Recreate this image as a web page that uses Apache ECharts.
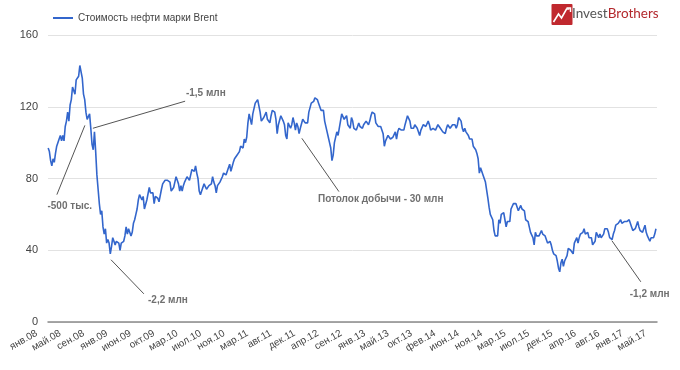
<!DOCTYPE html>
<html>
<head>
<meta charset="utf-8">
<script src="https://cdn.jsdelivr.net/npm/echarts@6/dist/echarts.min.js"></script>
<style>
html,body{margin:0;padding:0;background:#fff;}
#chart{width:680px;height:370px;}
</style>
</head>
<body>
<div id="chart"></div>
<script>
// Weekly Brent prices (USD/bbl), weeks stepping 7 days from 2008-01-02
const y2008 = [97,95,90,87,91, 89,94,98,99, 102,104,101,104, 101,109,112,117,112, 121,124,131,132, 127,135,134,137, 143,143,136,127,124, 117,113,114,116, 108,99,96,106, 95,82,74,66,60, 62,53,49,52, 44,46,44,38];
const y2009 = [42, 47,45,43,45, 44,44,40,44, 44,45,48,53, 49,52,52,48,50, 55,57,60,63, 68,71,70,68, 70,63,63,68,69, 75,72,71,72, 66,70,70,69,67, 67,74,77,77, 79,78,79,78, 78,73,72,75];
const y2010 = [78, 81,79,77,73, 76,73,76,78, 79,81,80,79,82, 85,84,84,87, 83,80,73,71, 73,74,77,76,74, 74,76,75,77, 81,78,76,72, 76,77,78,78,81, 83,83,82,83, 86,88,84,85, 89,91,92,93];
const y2011 = [94, 95,98,98,97, 102,100,103,111, 116,115,110,116,116, 122,121,124,125, 117,112,112,114, 115,117,113,114,111, 115,118,118,117, 113,105,110,110,115, 115,112,110,104, 102,111,111,108, 110,114,111,107,111, 109,105,108];
const y2012 = [107, 113,113,111,110, 111,117,118,122,122, 123,125,124,124, 122,120,118,119, 118,112,112,106,103, 100,97,90,93, 100,100,106,104, 105,112,116,115,113, 114,115,110,111, 108,114,112,108,109, 107,109,111,109, 109,108,110];
const y2013 = [111, 112,112,110,112,115, 117,118,116,111, 111,109,108,109, 108,105,98,101, 100,104,103,102,102, 103,103,106,102, 106,108,108,107,107, 107,110,110,115, 115,112,108,108, 108,110,109,108,109, 104,107,108,110, 111,109,109];
const y2014 = [112, 110,107,106,108,107, 107,108,110,109, 108,108,106,107, 105,108,110,110,108, 108,110,110,110, 108,110,114,114, 112,108,106,108,106, 105,104,102,102, 102,98,98,96, 94,91,83,86,86, 82,80,78,77, 69,64,60];
const y2015 = [60,57, 51,48,49,48, 57,55,60,61, 61,57,53,56, 55,56,63,62,66, 67,66,65,62, 63,65,63,63, 62,57,58,56,53, 50,49,47,43, 50,48,49,48,48, 51,49,48,48, 48,44,44,45, 43,40,38];
const y2016 = [37,37, 34,30,28,33, 35,31,34,35, 37,41,40,40,39, 38,44,44,47, 44,47,49,50, 50,52,49,50,50, 47,47,47,43, 43,45,50,49,47, 49,47,47,49, 52,52,52,50, 47,46,46,49,51, 54,55];
const y2017 = [55,56, 57,55,55,56, 57,56,56,57, 56,53,51,50,52, 54,56,53,51, 50,50,52,54,50, 48,47,45,47, 48,47,49,52];

const tickLabels = ['янв.08','май.08','сен.08','янв.09','июн.09','окт.09','мар.10','июл.10','ноя.10','мар.11','авг.11','дек.11','апр.12','сен.12','янв.13','май.13','окт.13','фев.14','июн.14','ноя.14','мар.15','июл.15','дек.15','апр.16','авг.16','янв.17','май.17'];
const yTicks = [0, 40, 80, 120, 160];
const seriesName = 'Стоимость нефти марки Brent';

const annotations = [
  {text: '-500 тыс.', from: ['2008-07-31', 109.6], to: ['2008-02-21', 71.0], label: ['2008-05-05', 64.3]},
  {text: '-1,5 млн', from: ['2008-09-15', 108.0], to: ['2010-02-27', 123.1], label: ['2010-06-26', 127.5]},
  {text: '-2,2 млн', from: ['2008-12-28', 34.7], to: ['2009-07-05', 15.7], label: ['2009-11-20', 12.3]},
  {text: 'Потолок добычи - 30 млн', from: ['2011-12-30', 102.4], to: ['2012-07-30', 72.7], label: ['2013-03-27', 68.2]},
  {text: '-1,2 млн', from: ['2016-11-15', 45.3], to: ['2017-04-30', 22.4], label: ['2017-06-20', 15.7]}
];

function ts(s) { const p = s.split('-').map(Number); return new Date(p[0], p[1] - 1, p[2]).getTime(); }

const weekly = [].concat(y2008, y2009, y2010, y2011, y2012, y2013, y2014, y2015, y2016, y2017);
const start = new Date(2008, 0, 2);
const seriesData = weekly.map((v, i) => {
  const d = new Date(start.getFullYear(), start.getMonth(), start.getDate() + 7 * i);
  return [d.getTime(), v];
});

const chart = echarts.init(document.getElementById('chart'), null, {renderer: 'canvas'});
const FONT = 'Arial, "Liberation Sans", sans-serif';

chart.setOption({
  animation: false,
  backgroundColor: '#fff',
  textStyle: {fontFamily: FONT},
  legend: {
    left: 48, top: 8, itemWidth: 20, itemHeight: 2, itemGap: 10,
    icon: 'rect',
    textStyle: {fontSize: 10, color: '#444', fontFamily: FONT},
    data: [{name: seriesName, icon: 'rect'}]
  },
  grid: {left: 48, right: 23, top: 35, bottom: 48, containLabel: false},
  xAxis: [
    {
      type: 'time', min: ts('2008-01-01'), max: ts('2017-08-01'),
      axisLabel: {show: false}, axisTick: {show: false}, splitLine: {show: false},
      axisLine: {show: true, lineStyle: {color: '#8a8a8a', width: 1.5}}
    },
    {
      type: 'category', data: tickLabels, boundaryGap: false, position: 'bottom',
      axisLine: {show: false}, axisTick: {show: false}, splitLine: {show: false},
      axisLabel: {rotate: 30, interval: 0, fontSize: 10, color: '#444', margin: 4, padding: [0, 13, 0, 0], fontFamily: FONT}
    }
  ],
  yAxis: {
    type: 'value', min: yTicks[0], max: yTicks[yTicks.length - 1], interval: 40,
    axisLine: {show: false}, axisTick: {show: false},
    axisLabel: {fontSize: 11, color: '#444', margin: 10, fontFamily: FONT},
    splitLine: {lineStyle: {color: '#e2e2e2', width: 1}}
  },
  series: [{
    name: seriesName, type: 'line', xAxisIndex: 0, data: seriesData,
    symbol: 'none', showSymbol: false,
    lineStyle: {color: '#3366cc', width: 1.6},
    itemStyle: {color: '#3366cc'},
    markLine: {
      silent: true, symbol: ['none', 'none'], animation: false,
      label: {show: false},
      lineStyle: {color: '#555', width: 1, type: 'solid'},
      data: annotations.map(a => [
        {coord: [ts(a.from[0]), a.from[1]]},
        {coord: [ts(a.to[0]), a.to[1]]}
      ])
    },
    markPoint: {
      silent: true, animation: false,
      data: annotations.map(a => ({
        coord: [ts(a.label[0]), a.label[1]],
        symbol: 'circle', symbolSize: 0,
        label: {show: true, position: 'inside', formatter: a.text, color: '#707070', fontSize: 10, fontWeight: 'bold', fontFamily: FONT}
      }))
    }
  }],
  graphic: [
    {
      type: 'group', left: 551, top: 4,
      children: [
        {type: 'rect', shape: {x: 0, y: 0, width: 21, height: 21, r: 1}, style: {fill: '#c0282e'}},
        {type: 'polyline', shape: {points: [[2, 18], [7, 10], [10, 14], [15, 5], [18, 5]]}, style: {stroke: '#fff', lineWidth: 1.6, fill: null}},
        {type: 'polyline', shape: {points: [[15, 4], [19, 4], [19, 8]]}, style: {stroke: '#fff', lineWidth: 1.4, fill: null}}
      ]
    },
    {
      type: 'text', left: 572, top: 7,
      style: {
        text: '{a|Invest}{b|Brothers}',
        rich: {
          a: {fontSize: 13.5, fontFamily: 'Lato, "Open Sans", sans-serif', fill: '#555', color: '#555'},
          b: {fontSize: 13.5, fontFamily: 'Lato, "Open Sans", sans-serif', fill: '#b3282d', color: '#b3282d'}
        }
      }
    }
  ]
});
</script>
</body>
</html>
